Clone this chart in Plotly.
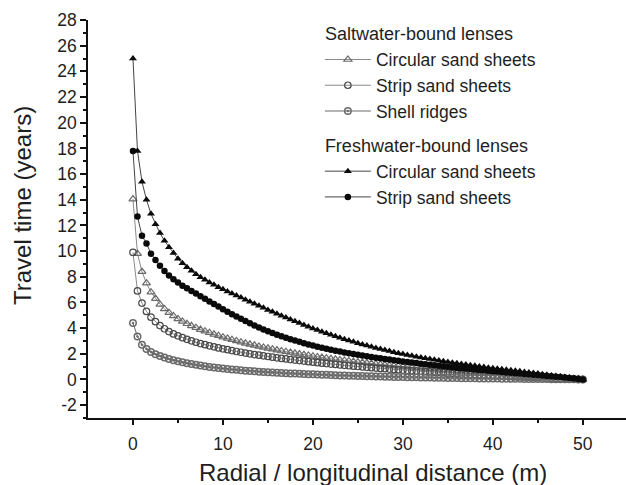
import plotly.graph_objects as go

# ---------------- data ----------------
distance = [
    0.0, 0.5, 1.0, 1.5, 2.0, 2.5, 3.0, 3.5, 4.0, 4.5,
    5.0, 5.5, 6.0, 6.5, 7.0, 7.5, 8.0, 8.5, 9.0, 9.5,
    10.0, 10.5, 11.0, 11.5, 12.0, 12.5, 13.0, 13.5, 14.0, 14.5,
    15.0, 15.5, 16.0, 16.5, 17.0, 17.5, 18.0, 18.5, 19.0, 19.5,
    20.0, 20.5, 21.0, 21.5, 22.0, 22.5, 23.0, 23.5, 24.0, 24.5,
    25.0, 25.5, 26.0, 26.5, 27.0, 27.5, 28.0, 28.5, 29.0, 29.5,
    30.0, 30.5, 31.0, 31.5, 32.0, 32.5, 33.0, 33.5, 34.0, 34.5,
    35.0, 35.5, 36.0, 36.5, 37.0, 37.5, 38.0, 38.5, 39.0, 39.5,
    40.0, 40.5, 41.0, 41.5, 42.0, 42.5, 43.0, 43.5, 44.0, 44.5,
    45.0, 45.5, 46.0, 46.5, 47.0, 47.5, 48.0, 48.5, 49.0, 49.5,
    50.0,
]

salt_circular = [
    14.05, 9.8, 8.4, 7.5, 6.8, 6.3, 5.85, 5.5, 5.2, 4.95,
    4.72, 4.52, 4.34, 4.18, 4.03, 3.89, 3.76, 3.64, 3.52, 3.41,
    3.3, 3.2, 3.1, 3.0, 2.91, 2.82, 2.74, 2.66, 2.58, 2.5,
    2.43, 2.36, 2.29, 2.22, 2.16, 2.1, 2.04, 1.98, 1.92, 1.87,
    1.81, 1.76, 1.71, 1.66, 1.61, 1.57, 1.52, 1.48, 1.44, 1.4,
    1.36, 1.32, 1.28, 1.24, 1.21, 1.17, 1.14, 1.1, 1.07, 1.04,
    1.01, 0.98, 0.95, 0.92, 0.89, 0.86, 0.83, 0.8, 0.78, 0.75,
    0.72, 0.7, 0.67, 0.65, 0.62, 0.6, 0.57, 0.55, 0.52, 0.5,
    0.48, 0.45, 0.43, 0.41, 0.38, 0.36, 0.34, 0.32, 0.3, 0.27,
    0.25, 0.23, 0.21, 0.19, 0.17, 0.14, 0.12, 0.09, 0.06, 0.03,
    0.0,
]

salt_strip = [
    9.9, 6.9, 5.95, 5.3, 4.85, 4.5, 4.2, 3.95, 3.73, 3.55,
    3.4, 3.26, 3.13, 3.01, 2.9, 2.8, 2.71, 2.62, 2.54, 2.46,
    2.39, 2.32, 2.25, 2.18, 2.12, 2.06, 2.0, 1.94, 1.89, 1.84,
    1.79, 1.74, 1.69, 1.64, 1.6, 1.55, 1.51, 1.47, 1.43, 1.39,
    1.35, 1.31, 1.27, 1.24, 1.2, 1.17, 1.13, 1.1, 1.07, 1.04,
    1.01, 0.98, 0.95, 0.92, 0.89, 0.86, 0.84, 0.81, 0.78, 0.76,
    0.73, 0.71, 0.68, 0.66, 0.64, 0.61, 0.59, 0.57, 0.55, 0.53,
    0.5, 0.48, 0.46, 0.44, 0.42, 0.4, 0.38, 0.36, 0.35, 0.33,
    0.31, 0.29, 0.27, 0.26, 0.24, 0.22, 0.21, 0.19, 0.18, 0.16,
    0.15, 0.13, 0.12, 0.1, 0.09, 0.07, 0.06, 0.04, 0.03, 0.01,
    0.0,
]

shell_ridges = [
    4.4, 3.35, 2.7, 2.38, 2.15, 1.97, 1.83, 1.71, 1.6, 1.5,
    1.42, 1.34, 1.27, 1.2, 1.14, 1.08, 1.03, 0.98, 0.93, 0.89,
    0.85, 0.81, 0.78, 0.75, 0.72, 0.69, 0.66, 0.64, 0.61, 0.59,
    0.57, 0.55, 0.53, 0.51, 0.49, 0.47, 0.46, 0.44, 0.43, 0.41,
    0.4, 0.38, 0.37, 0.36, 0.34, 0.33, 0.32, 0.31, 0.3, 0.29,
    0.28, 0.27, 0.26, 0.25, 0.24, 0.23, 0.22, 0.21, 0.2, 0.2,
    0.19, 0.18, 0.17, 0.17, 0.16, 0.15, 0.15, 0.14, 0.13, 0.13,
    0.12, 0.12, 0.11, 0.1, 0.1, 0.09, 0.09, 0.08, 0.08, 0.07,
    0.07, 0.07, 0.06, 0.06, 0.05, 0.05, 0.05, 0.04, 0.04, 0.04,
    0.03, 0.03, 0.03, 0.02, 0.02, 0.02, 0.01, 0.01, 0.01, 0.0,
    0.0,
]

fresh_circular = [
    25.0, 17.8, 15.4, 14.0, 12.9, 12.1, 11.4, 10.8, 10.3, 9.85,
    9.4, 9.05, 8.74, 8.46, 8.2, 7.97, 7.76, 7.56, 7.37, 7.19,
    7.02, 6.86, 6.7, 6.54, 6.38, 6.22, 6.06, 5.9, 5.74, 5.58,
    5.42, 5.27, 5.12, 4.97, 4.82, 4.67, 4.53, 4.39, 4.25, 4.11,
    3.98, 3.85, 3.72, 3.6, 3.48, 3.36, 3.25, 3.14, 3.03, 2.93,
    2.83, 2.73, 2.64, 2.55, 2.46, 2.37, 2.29, 2.21, 2.13, 2.05,
    1.98, 1.91, 1.85, 1.78, 1.72, 1.66, 1.6, 1.54, 1.48, 1.42,
    1.37, 1.31, 1.26, 1.21, 1.16, 1.11, 1.06, 1.01, 0.97, 0.92,
    0.88, 0.84, 0.8, 0.76, 0.72, 0.68, 0.64, 0.59, 0.55, 0.5,
    0.46, 0.41, 0.37, 0.32, 0.28, 0.23, 0.18, 0.14, 0.09, 0.05,
    0.0,
]

fresh_strip = [
    17.8, 12.7, 11.2, 10.6, 9.8, 9.3, 8.85, 8.45, 8.1, 7.8,
    7.55, 7.3, 7.1, 6.9, 6.69, 6.48, 6.28, 6.08, 5.88, 5.68,
    5.48, 5.28, 5.09, 4.91, 4.73, 4.55, 4.38, 4.21, 4.05, 3.89,
    3.75, 3.62, 3.49, 3.37, 3.25, 3.14, 3.03, 2.93, 2.83, 2.73,
    2.64, 2.55, 2.47, 2.39, 2.31, 2.24, 2.17, 2.1, 2.04, 1.98,
    1.92, 1.86, 1.8, 1.75, 1.7, 1.65, 1.6, 1.55, 1.5, 1.45,
    1.41, 1.36, 1.32, 1.28, 1.23, 1.19, 1.15, 1.11, 1.07, 1.03,
    0.99, 0.95, 0.92, 0.88, 0.85, 0.81, 0.78, 0.74, 0.71, 0.68,
    0.65, 0.62, 0.58, 0.55, 0.52, 0.49, 0.46, 0.43, 0.4, 0.37,
    0.34, 0.31, 0.28, 0.25, 0.22, 0.19, 0.15, 0.11, 0.08, 0.04,
    0.0,
]

x_ticks = [0, 10, 20, 30, 40, 50]
x_minor_ticks = [5, 15, 25, 35, 45]
y_ticks = [-2, 0, 2, 4, 6, 8, 10, 12, 14, 16, 18, 20, 22, 24, 26, 28]
y_tick_labels = ["-2", "0", "2", "4", "6", "8", "10", "12", "14", "16",
                 "18", "20", "22", "24", "26", "28"]
y_minor_ticks = [-3, -1, 1, 3, 5, 7, 9, 11, 13, 15, 17, 19, 21, 23, 25, 27]

group_salt = "Saltwater-bound lenses"
group_fresh = "Freshwater-bound lenses"

# ---------------- figure ----------------
FONT = "Liberation Sans, Arial, sans-serif"
TXT = "#1e1e1e"

fig = go.Figure()

series = [
    (salt_circular, "Circular sand sheets", "salt", group_salt,
     dict(symbol="triangle-up-open", size=7, color="#6a6a6a", line=dict(width=1.2)), "#8a8a8a"),
    (salt_strip, "Strip sand sheets", "salt", group_salt,
     dict(symbol="circle-open", size=6.5, color="#4a4a4a", line=dict(width=1.2)), "#8a8a8a"),
    (shell_ridges, "Shell ridges", "salt", group_salt,
     dict(symbol="circle-open-dot", size=6.5, color="#6a6a6a", line=dict(width=1.5)), "#6a6a6a"),
    (fresh_circular, "Circular sand sheets", "fresh", group_fresh,
     dict(symbol="triangle-up", size=7, color="#0a0a0a"), "#444444"),
    (fresh_strip, "Strip sand sheets", "fresh", group_fresh,
     dict(symbol="circle", size=6.5, color="#0a0a0a"), "#444444"),
]

for ys, name, grp, gtitle, mk, lc in series:
    fig.add_trace(go.Scatter(
        x=distance, y=ys, mode="lines+markers", name=name,
        legendgroup=grp,
        legendgrouptitle=dict(text=gtitle, font=dict(family=FONT, size=18, color=TXT)),
        marker=mk, line=dict(color=lc, width=1),
    ))

axis_common = dict(
    showgrid=False, zeroline=False, showline=True, linecolor="#111111",
    linewidth=1.6, ticks="outside", tickcolor="#111111", tickwidth=1.5,
    tickfont=dict(family=FONT, size=17.5, color=TXT), mirror=False,
)

fig.update_xaxes(
    range=[-5, 54.8], tickmode="array", tickvals=x_ticks, ticklen=5,
    ticklabelstandoff=4,
    minor=dict(tickmode="array", tickvals=x_minor_ticks, ticks="outside",
               ticklen=3, tickcolor="#111111", tickwidth=1.5),
    **axis_common,
)
fig.update_yaxes(
    range=[-3, 28], tickmode="array", tickvals=y_ticks, ticktext=y_tick_labels,
    ticklen=6,
    minor=dict(tickmode="array", tickvals=y_minor_ticks, ticks="outside",
               ticklen=3, tickcolor="#111111", tickwidth=1.5),
    **axis_common,
)

fig.update_layout(
    width=626, height=485,
    margin=dict(l=88, r=0, t=20, b=67, autoexpand=False),
    plot_bgcolor="white", paper_bgcolor="white",
    font=dict(family=FONT, color=TXT),
    showlegend=True,
    legend=dict(
        x=0.431, y=1.012, xanchor="left", yanchor="top",
        traceorder="grouped", tracegroupgap=8,
        font=dict(family=FONT, size=17.5, color=TXT),
        bgcolor="rgba(0,0,0,0)", itemwidth=46,
    ),
    annotations=[
        dict(text="Radial / longitudinal distance (m)", xref="paper", yref="paper",
             x=(373 - 88) / 538, y=(418 - 472) / 398, xanchor="center", yanchor="middle",
             showarrow=False, font=dict(family=FONT, size=24, color=TXT)),
        dict(text="Travel time (years)", xref="paper", yref="paper",
             x=(22 - 88) / 538, y=(418 - 206) / 398,
             xanchor="center", yanchor="middle", textangle=-90,
             showarrow=False, font=dict(family=FONT, size=24, color=TXT)),
    ],
)

fig.write_html(
    "out.html",
    config={"displayModeBar": False},
    post_script="document.body.style.margin='0';document.body.style.padding='0';",
)
